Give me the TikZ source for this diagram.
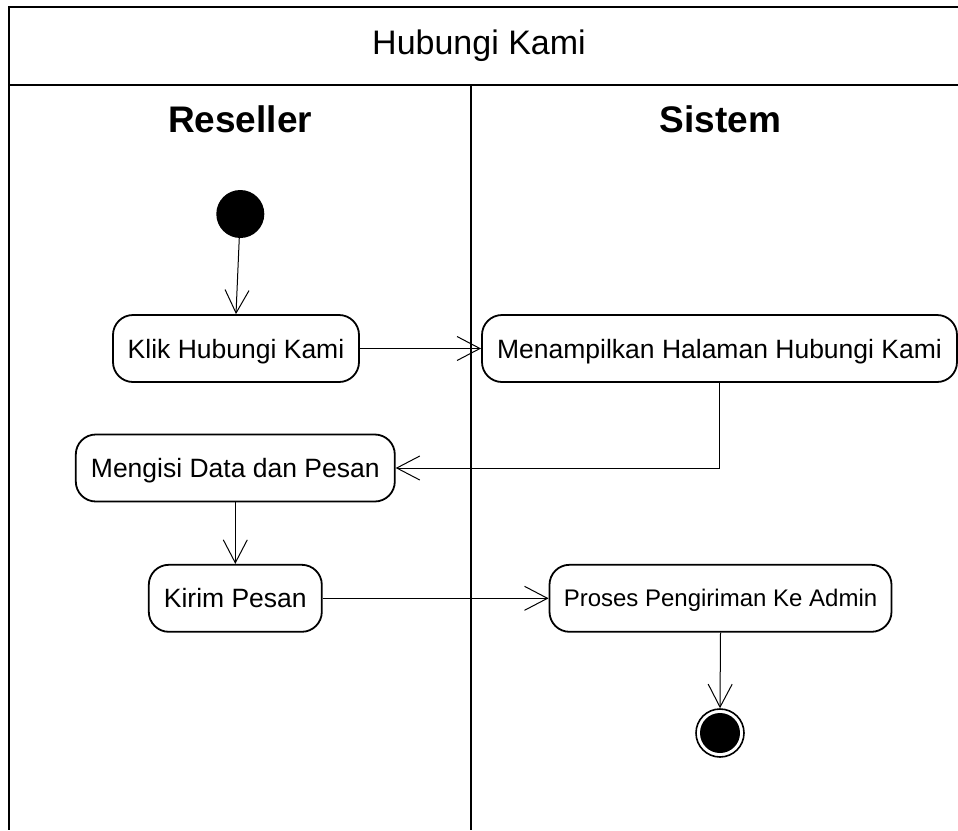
\documentclass[tikz,border=0pt]{standalone}
\usepackage{fontspec}
\setmainfont{Liberation Sans}
\usetikzlibrary{arrows.meta}

\begin{document}
\begin{tikzpicture}[x=1pt,y=-1pt,
  frameline/.style={line width=2pt},
  flow/.style={line width=1pt,-{Straight Barb[length=23pt,width=24pt]}},
  activity/.style={draw,line width=1.8pt,rounded corners=20pt,minimum height=67pt,
    inner sep=0pt,font=\fontsize{26.5}{30}\selectfont,text height=19pt,text depth=0pt},
  lanehead/.style={font=\fontsize{37}{40}\selectfont\bfseries,inner sep=0pt},
  startnode/.style={circle,fill=black,minimum size=48pt,inner sep=0pt},
  endnode/.style={circle,draw,line width=1.6pt,fill=white,minimum size=48pt,inner sep=0pt}
]
\useasboundingbox (0,0) rectangle (958,830);
\fill[white] (0,0) rectangle (958,830);

% swimlane frame
\draw[frameline] (958,7) -- (9,7) -- (9,830);
\draw[frameline] (9,85) -- (958,85);
\draw[frameline] (471,85) -- (471,830);

% headings
\node[font=\fontsize{34}{38}\selectfont,inner sep=0pt] (title) at (479,46) {Hubungi Kami};
\node[lanehead] (lreseller) at (240,119) {Reseller};
\node[lanehead] (lsistem) at (720.5,119) {Sistem};

% activities
\node[startnode] (start) at (240.3,214) {};
\node[activity,minimum width=246pt] (klik) at (236,348.5) {Klik Hubungi Kami};
\node[activity,minimum width=475pt] (tampil) at (719.5,348.5) {Menampilkan Halaman Hubungi Kami};
\node[activity,minimum width=319pt] (isi) at (235.3,468) {Mengisi Data dan Pesan};
\node[activity,minimum width=173pt] (kirim) at (235.3,598.3) {Kirim Pesan};
\node[activity,minimum width=342pt,font=\fontsize{24}{28}\selectfont,text height=17.2pt] (proses) at (720.5,598.3) {Proses Pengiriman Ke Admin};
\node[endnode] (end) at (720,733) {};
\fill (end.center) circle (20pt);

% control flow
\draw[flow] (start) -- (klik.north);
\draw[flow] (klik.east) -- (tampil.west);
\draw[flow] (tampil.south) |- (isi.east);
\draw[flow] (isi.south) -- (kirim.north);
\draw[flow] (kirim.east) -- (proses.west);
\draw[flow] (proses.south) -- (end.north);
\end{tikzpicture}
\end{document}
